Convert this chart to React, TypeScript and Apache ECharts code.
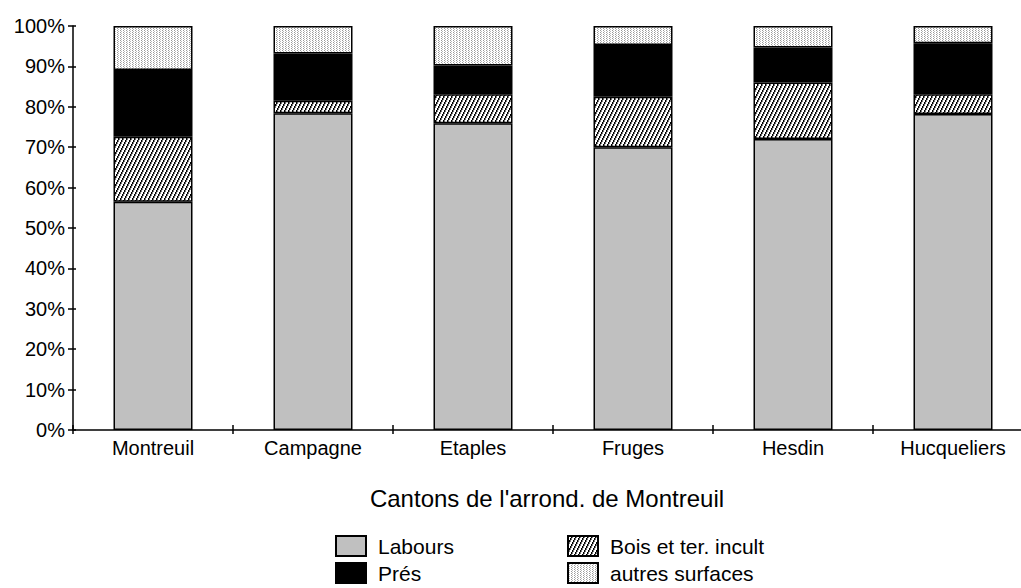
import React, { useEffect, useRef } from "react";
import * as echarts from "echarts";

const categories = ["Montreuil", "Campagne", "Etaples", "Fruges", "Hesdin", "Hucqueliers"];
const labours = [56.5, 78.4, 75.9, 70.0, 72.0, 78.2];
const bois = [16.1, 3.1, 7.2, 12.5, 14.0, 4.9];
const pres = [16.5, 11.7, 7.1, 12.8, 8.7, 12.6];
const autres = [10.9, 6.8, 9.8, 4.7, 5.3, 4.3];
const seriesNames = ["Labours", "Bois et ter. incult", "Prés", "autres surfaces"];
const axisTitle = "Cantons de l'arrond. de Montreuil";

const FONT = "'Liberation Sans', Arial, Helvetica, sans-serif";

function makeHatch(): HTMLCanvasElement {
  const c = document.createElement("canvas");
  c.width = 4;
  c.height = 8;
  const ctx = c.getContext("2d")!;
  ctx.fillStyle = "#ffffff";
  ctx.fillRect(0, 0, 4, 8);
  for (let y = 0; y < 8; y++) {
    const x = Math.floor((7 - y) / 2);
    ctx.fillStyle = "#000000";
    ctx.fillRect(x, y, 1, 1);
    ctx.fillStyle = "#777777";
    ctx.fillRect((x + 1) % 4, y, 1, 1);
  }
  return c;
}

function makeDots(): HTMLCanvasElement {
  const c = document.createElement("canvas");
  c.width = 3;
  c.height = 2;
  const ctx = c.getContext("2d")!;
  ctx.fillStyle = "#ffffff";
  ctx.fillRect(0, 0, 3, 2);
  ctx.fillStyle = "#999999";
  ctx.fillRect(0, 0, 1, 1);
  ctx.fillStyle = "#bbbbbb";
  ctx.fillRect(1, 1, 1, 1);
  return c;
}

export default function App() {
  const ref = useRef<HTMLDivElement>(null);
  useEffect(() => {
    if (!ref.current) return;
    const chart = echarts.init(ref.current, null, { renderer: "svg" });
    const hatch = { image: makeHatch(), repeat: "repeat" } as any;
    const dots = { image: makeDots(), repeat: "repeat" } as any;
    const border = { borderColor: "#000", borderWidth: 1.5 };
    const mk = (name: string, data: number[], color: any) => ({
      name,
      type: "bar",
      stack: "total",
      data,
      barWidth: 79,
      xAxisIndex: 0,
      yAxisIndex: 0,
      itemStyle: { color, ...border },
      emphasis: { disabled: true },
    });
    const legendAt = (name: string, left: number, top: number) => ({
      data: [name],
      orient: "horizontal",
      left,
      top,
      padding: 0,
      icon: "rect",
      itemWidth: 30,
      itemHeight: 20,
      textStyle: { color: "#000", fontSize: 21, fontFamily: FONT, padding: [0, 0, 0, 7] },
      selectedMode: false,
    });
    chart.setOption({
      animation: false,
      textStyle: { fontFamily: FONT },
      grid: { left: 73, top: 26, width: 960, height: 404, outerBoundsMode: "none", containLabel: false },
      xAxis: [
        {
          type: "category",
          data: categories,
          position: "bottom",
          axisLine: { lineStyle: { color: "#000", width: 1.5 } },
          axisTick: { show: true, length: 4, lineStyle: { color: "#000", width: 1.5 } },
          axisLabel: { color: "#000", fontSize: 20, fontFamily: FONT, margin: 8 },
        },
        {
          type: "category",
          data: categories,
          position: "bottom",
          axisLine: { show: false },
          axisTick: { show: true, inside: true, length: 5, lineStyle: { color: "#000", width: 1.5 } },
          axisLabel: { show: false },
        },
      ],
      yAxis: [
        {
          type: "value",
          min: 0,
          max: 100,
          interval: 10,
          position: "left",
          axisLine: { show: true, lineStyle: { color: "#000", width: 1.5 } },
          axisTick: { show: true, length: 5, lineStyle: { color: "#000", width: 1.5 } },
          axisLabel: { color: "#000", fontSize: 20, fontFamily: FONT, margin: 8, formatter: "{value}%" },
          splitLine: { show: false },
        },
        {
          type: "value",
          min: 0,
          max: 100,
          interval: 10,
          position: "left",
          axisLine: { show: false },
          axisTick: { show: true, inside: true, length: 3, lineStyle: { color: "#000", width: 1.5 } },
          axisLabel: { show: false },
          splitLine: { show: false },
        },
      ],
      legend: [
        legendAt(seriesNames[0], 335, 535),
        legendAt(seriesNames[2], 335, 562),
        legendAt(seriesNames[1], 567, 535),
        legendAt(seriesNames[3], 567, 562),
      ],
      graphic: [
        {
          type: "text",
          x: 547,
          y: 498,
          style: {
            text: axisTitle,
            fontSize: 24,
            fontFamily: FONT,
            fill: "#000",
            align: "center",
            verticalAlign: "middle",
          },
        },
      ],
      series: [
        mk(seriesNames[0], labours, "#c0c0c0"),
        mk(seriesNames[1], bois, hatch),
        mk(seriesNames[2], pres, "#000000"),
        mk(seriesNames[3], autres, dots),
      ],
    });
    return () => chart.dispose();
  }, []);
  return <div ref={ref} style={{ width: 1021, height: 588, position: "absolute", left: 0, top: 0 }} />;
}
